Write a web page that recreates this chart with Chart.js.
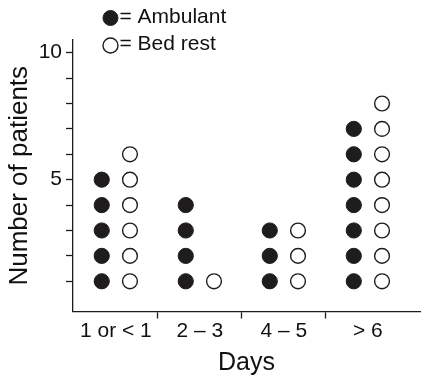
<!DOCTYPE html>
<html><head><meta charset="utf-8">
<script src="https://cdn.jsdelivr.net/npm/chart.js@4/dist/chart.umd.min.js"></script>
<style>html,body{margin:0;padding:0;background:#fff;overflow:hidden}</style>
</head><body>
<canvas id="c" width="422" height="378"></canvas>
<script>
// ---- data ----
const categories = ['1 or < 1', '2 – 3', '4 – 5', '> 6'];
const ambulant = [5, 4, 3, 7];
const bedRest = [6, 1, 3, 8];
const seriesLabels = ['= Ambulant', '= Bed rest'];
const yTicks = [1, 2, 3, 4, 5, 6, 7, 8, 9, 10];
const yLabelled = [5, 10];

// one dot per patient, stacked in a column beside the category centre
function dots(counts, shift) {
  const pts = [];
  counts.forEach((n, i) => { for (let k = 1; k <= n; k++) pts.push({x: i + shift, y: k}); });
  return pts;
}

const INK = '#1e1c1d';
Chart.defaults.font.family = "'Liberation Sans', Arial, Helvetica, sans-serif";
Chart.defaults.color = '#111';

const legendPlugin = {
  id: 'dotLegend',
  afterDraw(chart) {
    const ctx = chart.ctx;
    ctx.save();
    chart.data.datasets.forEach((ds, i) => {
      const cy = 18 + i * 27.5;
      ctx.beginPath();
      ctx.arc(110.5, cy, 7.5, 0, Math.PI * 2);
      ctx.fillStyle = ds.backgroundColor;
      ctx.fill();
      ctx.lineWidth = ds.borderWidth;
      ctx.strokeStyle = ds.borderColor;
      ctx.stroke();
      ctx.fillStyle = '#111';
      ctx.font = "21px 'Liberation Sans', Arial, sans-serif";
      ctx.textBaseline = 'middle';
      ctx.textAlign = 'left';
      ctx.fillText(ds.label, 119.5, cy - 1);
    });
    ctx.restore();
  }
};

new Chart(document.getElementById('c'), {
  type: 'scatter',
  data: {
    datasets: [
      {label: seriesLabels[0], data: dots(ambulant, -0.168), pointRadius: 7.6, pointHoverRadius: 7.6,
       backgroundColor: INK, borderColor: INK, borderWidth: 1},
      {label: seriesLabels[1], data: dots(bedRest, 0.168), pointRadius: 7.4, pointHoverRadius: 7.4,
       backgroundColor: '#ffffff', borderColor: INK, borderWidth: 1.4}
    ]
  },
  options: {
    responsive: false,
    animation: false,
    devicePixelRatio: 1,
    layout: {autoPadding: false, padding: {top: 40, right: 2, left: 0, bottom: 0}},
    plugins: {legend: {display: false}, tooltip: {enabled: false}},
    scales: {
      x: {
        type: 'linear', min: -0.51, max: 3.62,
        afterBuildTicks: s => { s.ticks = categories.map((c, i) => ({value: i})); },
        afterFit: s => { s.height = 66.5; s.paddingLeft = 0; s.paddingRight = 0; },
        ticks: {callback: v => categories[v], font: {size: 21}, color: '#111', padding: 0, autoSkip: false, maxRotation: 0},
        grid: {offset: true, drawOnChartArea: false, tickLength: 7, tickWidth: 1.3,
               tickColor: c => (c.index === undefined || c.index === 0) ? 'rgba(0,0,0,0)' : INK},
        border: {color: INK, width: 1.3},
        title: {display: true, text: 'Days', font: {size: 25}, color: '#111', padding: {top: 0, bottom: 0}}
      },
      y: {
        type: 'linear', min: -0.19, max: 10.5,
        afterBuildTicks: s => { s.ticks = yTicks.map(v => ({value: v})); },
        afterFit: s => { s.width = 73; s.paddingTop = 0; s.paddingBottom = 0; },
        ticks: {callback: v => yLabelled.includes(v) ? String(v) : '', font: {size: 21}, color: '#111', padding: 4, autoSkip: false},
        grid: {drawOnChartArea: false, tickLength: 7, tickWidth: 1.3, tickColor: INK},
        border: {color: INK, width: 1.3},
        title: {display: true, text: 'Number of patients', font: {size: 26}, color: '#111', padding: {top: 4, bottom: 0}}
      }
    }
  },
  plugins: [legendPlugin]
});
</script>
</body></html>
